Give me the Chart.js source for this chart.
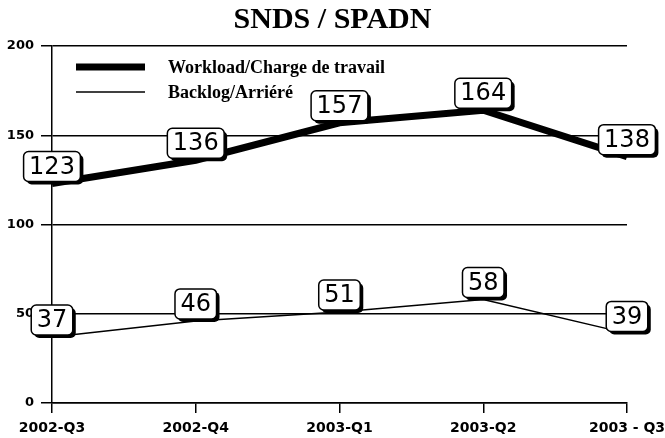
<!DOCTYPE html>
<html>
<head>
<meta charset="utf-8">
<script src="https://cdn.jsdelivr.net/npm/chart.js@4.4.1/dist/chart.umd.min.js"></script>
<style>
  html, body { margin: 0; padding: 0; background: #fff; }
  #wrap { width: 665px; height: 438px; }
</style>
</head>
<body>
<div id="wrap"><canvas id="chart" width="665" height="438"></canvas></div>
<script>
const quarters = ['2002-Q3', '2002-Q4', '2003-Q1', '2003-Q2', '2003 - Q3'];
const workload = [123, 136, 157, 164, 138];
const backlog = [37, 46, 51, 58, 39];
const yTicks = [0, 50, 100, 150, 200];

const workloadLabel = 'Workload/Charge de travail';
const backlogLabel = 'Backlog/Arriéré';

// boxed value labels sitting on top of each point
const valueBoxes = {
    id: 'valueBoxes',
    afterDatasetsDraw(chart) {
        const ctx = chart.ctx;
        ctx.save();
        ctx.font = '24px "DejaVu Sans"';
        ctx.textAlign = 'center';
        ctx.textBaseline = 'middle';
        chart.data.datasets.forEach((ds, i) => {
            const meta = chart.getDatasetMeta(i);
            meta.data.forEach((pt, j) => {
                const txt = String(ds.data[j]);
                const w = ctx.measureText(txt).width + 11;
                const h = 30;
                const x = pt.x - w / 2;
                const y = pt.y - 2 - h;
                // shadow
                ctx.fillStyle = '#000';
                ctx.beginPath();
                ctx.roundRect(x + 3, y + 3, w, h, 5);
                ctx.fill();
                ctx.fillStyle = '#fff';
                ctx.strokeStyle = '#000';
                ctx.lineWidth = 1.5;
                ctx.beginPath();
                ctx.roundRect(x, y, w, h, 5);
                ctx.fill();
                ctx.stroke();
                ctx.fillStyle = '#000';
                ctx.fillText(txt, pt.x, y + h / 2 + 1);
            });
        });
        ctx.restore();
    }
};

// legend stacked in the upper left of the plot
const plotLegend = {
    id: 'plotLegend',
    afterDraw(chart) {
        const ctx = chart.ctx;
        const rows = [67, 92];
        ctx.save();
        ctx.font = 'bold 18px "Liberation Serif"';
        ctx.textBaseline = 'middle';
        chart.data.datasets.forEach((ds, i) => {
            ctx.strokeStyle = ds.borderColor;
            ctx.lineWidth = ds.borderWidth;
            ctx.beginPath();
            ctx.moveTo(76, rows[i]);
            ctx.lineTo(145, rows[i]);
            ctx.stroke();
            ctx.fillStyle = '#000';
            ctx.fillText(ds.label, 168, rows[i] + 1);
        });
        ctx.restore();
    }
};

new Chart(document.getElementById('chart'), {
    type: 'line',
    data: {
        labels: quarters,
        datasets: [
            { label: workloadLabel, data: workload, borderColor: '#000', borderWidth: 7, pointRadius: 0, tension: 0, fill: false },
            { label: backlogLabel, data: backlog, borderColor: '#000', borderWidth: 1.5, pointRadius: 0, tension: 0, fill: false }
        ]
    },
    options: {
        responsive: false,
        animation: false,
        layout: { padding: 0 },
        plugins: {
            legend: { display: false },
            tooltip: { enabled: false },
            title: {
                display: true,
                text: 'SNDS / SPADN',
                color: '#000',
                font: { family: '"Liberation Serif"', size: 30, weight: 'bold', lineHeight: 1.2 },
                padding: { top: 2, bottom: 8 }
            }
        },
        scales: {
            x: {
                offset: false,
                grid: { drawOnChartArea: false, drawTicks: true, tickLength: 10, color: '#000', lineWidth: 1.5 },
                border: { display: true, color: '#000', width: 1.5 },
                ticks: {
                    color: '#000',
                    padding: 7,
                    maxRotation: 0,
                    autoSkip: false,
                    font: { family: '"DejaVu Sans"', size: 14, weight: 'bold' }
                },
                afterFit(scale) {
                    scale.height = 35;
                    scale.paddingLeft = 0;
                    scale.paddingRight = 38;
                }
            },
            y: {
                min: 0,
                max: 200,
                afterBuildTicks(scale) {
                    scale.ticks = yTicks.map(v => ({ value: v }));
                },
                grid: { drawTicks: true, tickLength: 11, color: '#000', lineWidth: 1.5 },
                border: { display: true, color: '#000', width: 1.5 },
                ticks: {
                    color: '#000',
                    padding: 7,
                    font: { family: '"DejaVu Sans"', size: 13, weight: 'bold' }
                },
                afterFit(scale) {
                    scale.width = 52;
                }
            }
        }
    },
    plugins: [valueBoxes, plotLegend]
});
</script>
</body>
</html>
